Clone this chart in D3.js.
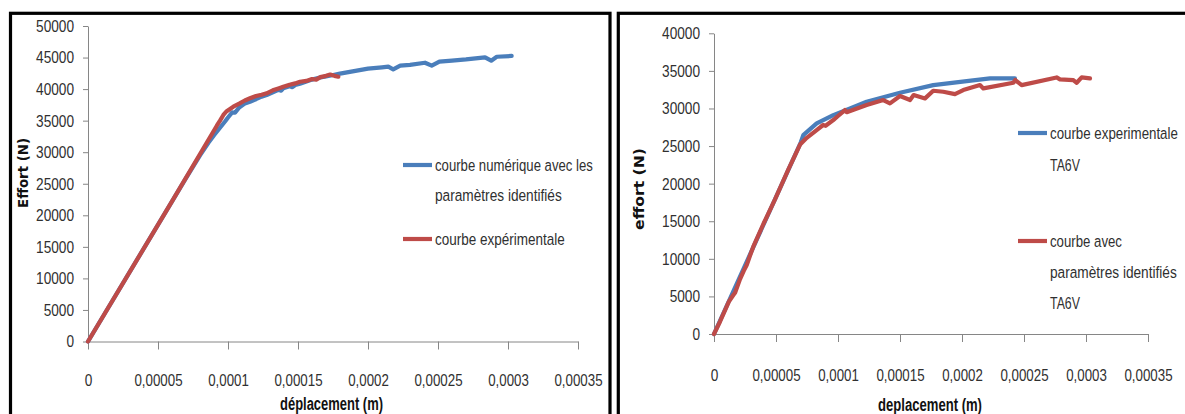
<!DOCTYPE html>
<html>
<head>
<meta charset="utf-8">
<script src="https://cdn.jsdelivr.net/npm/d3@7"></script>
<style>
  html, body { margin: 0; padding: 0; background: #fff; }
  svg { display: block; }
  .tick text { font-family: "Liberation Sans", sans-serif; font-size: 17px; fill: #303030; }
  .leg { font-family: "Liberation Sans", sans-serif; font-size: 17px; fill: #303030; }
  .xtitle { font-family: "Liberation Sans", sans-serif; font-size: 18.5px; font-weight: bold; fill: #111; }
  .ytitle { font-family: "DejaVu Sans", sans-serif; font-weight: bold; fill: #111; }
</style>
</head>
<body>
<svg id="chart" width="1185" height="414"></svg>
<script>
// ---------- data ----------
const xTickValues = [0, 0.00005, 0.0001, 0.00015, 0.0002, 0.00025, 0.0003, 0.00035];
const xTickLabels = ["0", "0,00005", "0,0001", "0,00015", "0,0002", "0,00025", "0,0003", "0,00035"];
const leftYTicks = [0, 5000, 10000, 15000, 20000, 25000, 30000, 35000, 40000, 45000, 50000];
const rightYTicks = [0, 5000, 10000, 15000, 20000, 25000, 30000, 35000, 40000];

// Left chart: courbe numérique avec les paramètres identifiés (blue)
const leftNumX = [0, 0.00007, 0.00008, 0.000086, 0.00009, 0.000094, 0.000098, 0.0001, 0.000103, 0.000105, 0.000108, 0.000112, 0.0001157, 0.00012, 0.000124, 0.0001276, 0.000132, 0.000136, 0.000138, 0.0001395, 0.000144, 0.000146, 0.000148, 0.0001514, 0.000156, 0.00016, 0.000165, 0.00017, 0.0001752, 0.00018, 0.00019, 0.0002, 0.00021, 0.0002145, 0.000218, 0.000223, 0.00023, 0.0002407, 0.0002455, 0.000251, 0.00026, 0.00027, 0.0002836, 0.000288, 0.000292, 0.0003026];
const leftNumY = [0, 25900, 29500, 31500, 32700, 33800, 34900, 35500, 36300, 36250, 37100, 37700, 38000, 38400, 38800, 39060, 39500, 39900, 39750, 40120, 40450, 40300, 40650, 40850, 41200, 41500, 41800, 42000, 42230, 42450, 42850, 43250, 43450, 43550, 43130, 43710, 43850, 44180, 43710, 44340, 44500, 44700, 45040, 44500, 45130, 45250];

// Left chart: courbe expérimentale (red)
const leftExpX = [0, 0.00006, 0.000092, 0.0000943, 0.0000967, 0.0000988, 0.0001038, 0.000108, 0.000112, 0.0001157, 0.00012, 0.000124, 0.0001276, 0.000132, 0.000136, 0.0001395, 0.000144, 0.000148, 0.0001514, 0.000156, 0.00016, 0.000163, 0.000166, 0.00017, 0.000173, 0.000176, 0.0001788];
const leftExpY = [0, 22200, 34200, 35000, 35900, 36450, 37210, 37700, 38200, 38540, 38900, 39100, 39330, 39800, 40100, 40380, 40700, 40900, 41170, 41300, 41600, 41500, 41900, 42100, 42300, 42100, 41960];

// Right chart: courbe experimentale TA6V (blue)
const rightExpX = [0, 0.00007, 0.000072, 0.0000828, 0.0000962, 0.0001097, 0.0001231, 0.00015, 0.0001768, 0.0002038, 0.0002226, 0.0002427];
const rightExpY = [0, 25500, 26460, 28020, 29120, 30010, 30890, 32100, 33110, 33640, 34000, 34000];

// Right chart: courbe avec paramètres identifiés TA6V (red)
const rightIdX = [0, 0.000005, 0.000012, 0.0000156, 0.000017, 0.000021, 0.000024, 0.0000264, 0.000029, 0.0000317, 0.00004, 0.0000492, 0.00006, 0.0000694, 0.0000748, 0.0000828, 0.000088, 0.00009, 0.0000962, 0.0001, 0.0001056, 0.000107, 0.0001231, 0.0001365, 0.0001419, 0.00015, 0.0001581, 0.000161, 0.0001702, 0.0001768, 0.0001849, 0.0001943, 0.000201, 0.0002145, 0.0002172, 0.0002414, 0.000243, 0.0002481, 0.0002763, 0.000279, 0.0002898, 0.0002925, 0.0002965, 0.0003032];
const rightIdY = [0, 1700, 4300, 5186, 5500, 7300, 8400, 9176, 10400, 11610, 14700, 17900, 21900, 25200, 26100, 27130, 27800, 27700, 28460, 29000, 29790, 29500, 30450, 31120, 30680, 31650, 31120, 31780, 31340, 32360, 32220, 31910, 32450, 33110, 32670, 33420, 33780, 33110, 34130, 33870, 33780, 33420, 34130, 34000];

const BLUE = "#4a7ebb";
const RED = "#be4b48";
const AXIS = "#868686";

// condensed (Calibri-like) width of a numeric label
const numWidth = s => s.split("").reduce((w, c) => w + (c === "," ? 2.6 : 7.6), 0);

// place a text at (x, y) and squeeze it horizontally to a target width
function fitText(t, x, y, w, rotate) {
  t.attr("x", 0).attr("y", 0);
  const len = t.node().getComputedTextLength();
  const s = len > 0 ? w / len : 1;
  t.attr("transform", `translate(${x},${y})${rotate ? " rotate(-90)" : ""} scale(${s},1)`);
}

const svg = d3.select("#chart");

// frames
svg.append("rect").attr("x", 10.5).attr("y", 13.3).attr("width", 599.5).attr("height", 420)
  .attr("fill", "none").attr("stroke", "#000").attr("stroke-width", 3.2);
svg.append("rect").attr("x", 618.3).attr("y", 13.3).attr("width", 580).attr("height", 420)
  .attr("fill", "none").attr("stroke", "#000").attr("stroke-width", 3.2);

function drawPanel(cfg) {
  const x = d3.scaleLinear().domain([0, 0.00035]).range(cfg.xr);
  const y = d3.scaleLinear().domain(cfg.ydom).range(cfg.yr);
  const g = svg.append("g");

  const xa = g.append("g").attr("transform", `translate(0,${cfg.yr[0]})`)
    .call(d3.axisBottom(x).tickValues(xTickValues).tickFormat((d, i) => xTickLabels[i]).tickSize(8).tickSizeOuter(0));
  const ya = g.append("g").attr("transform", `translate(${cfg.xr[0]},0)`)
    .call(d3.axisLeft(y).tickValues(cfg.yticks).tickFormat(d3.format("d")).tickSize(5).tickSizeOuter(0).tickPadding(cfg.yPad));
  [xa, ya].forEach(a => {
    a.select(".domain").attr("stroke", AXIS);
    a.selectAll(".tick line").attr("stroke", AXIS);
  });
  xa.selectAll(".tick text").attr("dy", "0.35em").each(function () {
    const t = d3.select(this);
    fitText(t, 0, cfg.xLabOff, numWidth(t.text()));
  });
  ya.selectAll(".tick text").attr("dy", "0.32em").each(function () {
    const t = d3.select(this);
    fitText(t, -(5 + cfg.yPad), 0, numWidth(t.text()));
  });

  const line = d3.line().x(d => x(d[0])).y(d => y(d[1]));
  cfg.series.forEach(s => {
    const pts = s.xs.map((v, i) => [v, s.ys[i]]);
    g.append("path").attr("d", line(pts)).attr("fill", "none").attr("stroke", s.color)
      .attr("stroke-width", 4.2).attr("stroke-linejoin", "round").attr("stroke-linecap", "round");
  });

  const xt = cfg.xtitle;
  const xtt = g.append("text").attr("class", "xtitle").attr("text-anchor", "middle")
    .attr("dominant-baseline", "central").text(xt.text);
  fitText(xtt, xt.x, xt.y, xt.w);
  const yt = cfg.ytitle;
  const ytt = g.append("text").attr("class", "ytitle").attr("text-anchor", "middle")
    .attr("dominant-baseline", "central").style("font-size", yt.size + "px").text(yt.text);
  fitText(ytt, yt.x, yt.y, yt.w, true);

  cfg.legend.forEach(l => {
    g.append("line").attr("x1", l.lx).attr("x2", l.lx + 29).attr("y1", l.y).attr("y2", l.y)
      .attr("stroke", l.color).attr("stroke-width", 4.2);
    l.lines.forEach((t, i) => {
      const tt = g.append("text").attr("class", "leg").attr("dominant-baseline", "central").text(t);
      fitText(tt, l.lx + 32, l.y + i * l.step, l.widths[i]);
    });
  });
}

drawPanel({
  xr: [88, 578], ydom: [0, 50000], yr: [341.5, 26], yticks: leftYTicks, yPad: 9, xLabOff: 38.5,
  series: [
    { xs: leftNumX, ys: leftNumY, color: BLUE },
    { xs: leftExpX, ys: leftExpY, color: RED }
  ],
  xtitle: { x: 331.5, y: 404, w: 103, text: "déplacement (m)" },
  ytitle: { x: 23, y: 173, w: 70, size: 13.5, text: "Effort (N)" },
  legend: [
    { lx: 403, y: 165, step: 30, color: BLUE, lines: ["courbe numérique avec les", "paramètres identifiés"], widths: [158, 127] },
    { lx: 403, y: 239, step: 30, color: RED, lines: ["courbe expérimentale"], widths: [130] }
  ]
});

drawPanel({
  xr: [714, 1148], ydom: [0, 40000], yr: [334, 33.3], yticks: rightYTicks, yPad: 9, xLabOff: 41,
  series: [
    { xs: rightExpX, ys: rightExpY, color: BLUE },
    { xs: rightIdX, ys: rightIdY, color: RED }
  ],
  xtitle: { x: 930, y: 404, w: 104, text: "deplacement (m)" },
  ytitle: { x: 639, y: 189, w: 82, size: 14, text: "effort (N)" },
  legend: [
    { lx: 1018, y: 133, step: 32, color: BLUE, lines: ["courbe experimentale", "TA6V"], widths: [128, 30] },
    { lx: 1018, y: 241, step: 31, color: RED, lines: ["courbe avec", "paramètres identifiés", "TA6V"], widths: [72, 127, 30] }
  ]
});
</script>
</body>
</html>
